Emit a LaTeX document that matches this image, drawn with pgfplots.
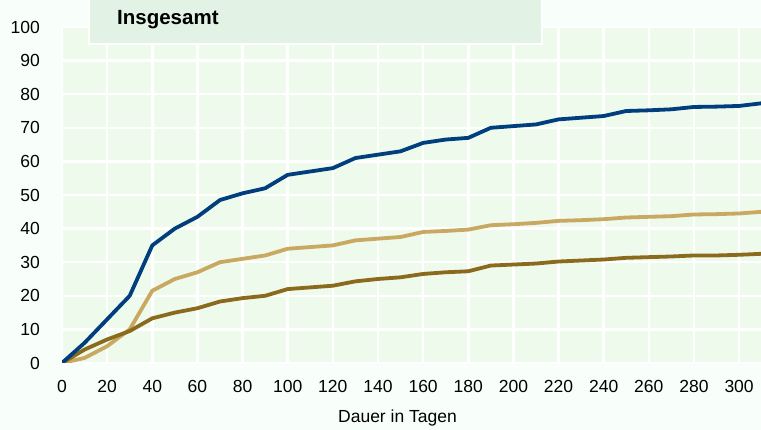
\documentclass[border=0pt]{standalone}
\usepackage{pgfplots}
\pgfplotsset{compat=1.18}
\usepackage{fontspec}
\setmainfont{Liberation Sans}
\definecolor{figbg}{HTML}{F8FFFA}
\definecolor{plotbg}{HTML}{EEFAEC}
\definecolor{titlebg}{HTML}{E2F2E4}
\definecolor{dblue}{HTML}{003E7E}
\definecolor{ltan}{HTML}{C9A962}
\definecolor{dbrown}{HTML}{8B6A1E}
\begin{document}
\begin{tikzpicture}[x=1pt,y=1pt]
\fill[figbg] (0,0) rectangle (761,430);
\begin{axis}[
  at={(62pt,67pt)}, anchor=south west,
  scale only axis, width=699pt, height=336pt,
  xmin=0, xmax=309.7, ymin=0, ymax=100,
  xtick={0,20,...,300}, ytick={0,10,...,100},
  axis line style={draw=none},
  major tick length=0pt,
  grid=major,
  grid style={white, line width=2.5pt},
  axis background/.style={fill=plotbg},
  tick label style={font=\fontsize{17.5}{20}\selectfont, inner sep=0pt},
  xticklabel shift=17pt,
  yticklabel shift=22pt,
  /pgf/number format/assume math mode=true,
  clip=true,
]
\addplot[ltan, line width=3.8pt, line join=round] coordinates {
(0,0)(10,1.5)(20,5)(30,10)(40,21.5)(50,25)(60,27)(70,30)(80,31)(90,32)(100,34)(110,34.5)(120,35)(130,36.5)(140,37)(150,37.5)(160,39)(170,39.3)(180,39.7)(190,41)(200,41.3)(210,41.7)(220,42.3)(230,42.5)(240,42.8)(250,43.3)(260,43.5)(270,43.7)(280,44.2)(290,44.3)(300,44.5)(310,45)
};
\addplot[dbrown, line width=3.8pt, line join=round] coordinates {
(0,0)(10,4)(20,7)(30,9.5)(40,13.3)(50,15)(60,16.3)(70,18.3)(80,19.3)(90,20)(100,22)(110,22.5)(120,23)(130,24.3)(140,25)(150,25.5)(160,26.5)(170,27)(180,27.3)(190,29)(200,29.3)(210,29.6)(220,30.2)(230,30.5)(240,30.8)(250,31.3)(260,31.5)(270,31.7)(280,32)(290,32)(300,32.2)(310,32.5)
};
\addplot[dblue, line width=3.8pt, line join=round] coordinates {
(0,0)(10,6)(20,13)(30,20)(40,35)(50,40)(60,43.5)(70,48.5)(80,50.5)(90,52)(100,56)(110,57)(120,58)(130,61)(140,62)(150,63)(160,65.5)(170,66.5)(180,67)(190,70)(200,70.5)(210,71)(220,72.5)(230,73)(240,73.5)(250,75)(260,75.2)(270,75.5)(280,76.2)(290,76.3)(300,76.5)(310,77.3)
};
\end{axis}
\filldraw[fill=titlebg, draw=white, line width=2pt] (89,386) rectangle (542,434);
\node[anchor=base west, inner sep=0pt, font=\bfseries\fontsize{20.5}{24}\selectfont] at (117,405) {Insgesamt};
\node[anchor=base, inner sep=0pt, font=\fontsize{17.5}{20}\selectfont] at (397.5,7) {Dauer in Tagen};
\pgfresetboundingbox
\useasboundingbox (0,0) rectangle (761,430);
\end{tikzpicture}
\end{document}
